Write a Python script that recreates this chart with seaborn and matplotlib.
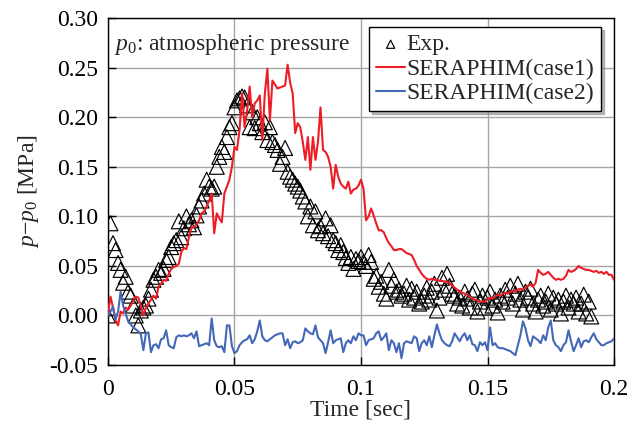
import numpy as np
import pandas as pd
import matplotlib
matplotlib.use("Agg")
import matplotlib.pyplot as plt
import seaborn as sns

# ---------------- data ----------------
dt = 0.001  # sample interval [sec]

exp_p = [
    0.000, 0.093, 0.073, 0.066, 0.053, 0.046, 0.033, 0.039, 0.024, 0.020,
    0.010, 0.000, -0.010, 0.005, 0.008, 0.010, 0.017, 0.026, 0.036, 0.039,
    0.046, 0.043, 0.047, 0.056, 0.059, 0.069, 0.073, 0.076, 0.095, 0.079,
    0.088, 0.100, 0.092, 0.096, 0.089, 0.101, 0.110, 0.116, 0.123, 0.137,
    0.130, 0.128, 0.130, 0.150, 0.160, 0.170, 0.165, 0.180, 0.190, 0.194,
    0.210, 0.217, 0.219, 0.221, 0.220, 0.212, 0.190, 0.205, 0.189, 0.200,
    0.194, 0.185, 0.195, 0.177, 0.190, 0.175, 0.172, 0.167, 0.153, 0.160,
    0.169, 0.145, 0.140, 0.137, 0.133, 0.130, 0.126, 0.120, 0.115, 0.100,
    0.110, 0.091, 0.105, 0.086, 0.090, 0.083, 0.098, 0.080, 0.091, 0.076,
    0.073, 0.066, 0.071, 0.064, 0.058, 0.053, 0.059, 0.047, 0.057, 0.055,
    0.059, 0.054, 0.050, 0.061, 0.054, 0.037, 0.040, 0.029, 0.034, 0.022,
    0.017, 0.046, 0.030, 0.036, 0.024, 0.026, 0.020, 0.022, 0.030, 0.016,
    0.027, 0.018, 0.024, 0.012, 0.014, 0.020, 0.028, 0.016, 0.024, 0.032,
    0.005, 0.018, 0.038, 0.026, 0.042, 0.030, 0.022, 0.020, 0.012, 0.018,
    0.010, 0.024, 0.017, 0.008, 0.022, 0.026, 0.004, 0.014, 0.020, 0.008,
    0.018, 0.024, 0.010, 0.016, 0.003, 0.020, 0.014, 0.026, 0.018, 0.030,
    0.012, 0.022, 0.032, 0.016, 0.006, 0.024, 0.018, 0.027, 0.012, 0.004,
    0.016, 0.020, 0.010, 0.014, 0.022, 0.006, 0.018, 0.012, 0.016, 0.002,
    0.014, 0.020, 0.008, 0.016, 0.012, 0.018, 0.004, 0.012, 0.021, 0.002,
    0.014, -0.001,
]

case1_p = [
    0.002, 0.019, 0.008, -0.005, -0.010, 0.004, 0.002, 0.008, 0.006, 0.010,
    0.015, 0.019, 0.018, 0.010, 0.000, 0.008, 0.012, 0.016, 0.020, 0.017,
    0.029, 0.032, 0.036, 0.035, 0.042, 0.047, 0.049, 0.050, 0.052, 0.064,
    0.068, 0.067, 0.079, 0.089, 0.089, 0.092, 0.096, 0.103, 0.105, 0.110,
    0.116, 0.123, 0.083, 0.103, 0.098, 0.094, 0.123, 0.130, 0.137, 0.150,
    0.170, 0.167, 0.187, 0.224, 0.190, 0.207, 0.231, 0.200, 0.214, 0.217,
    0.222, 0.177, 0.224, 0.249, 0.197, 0.237, 0.233, 0.229, 0.230, 0.231,
    0.232, 0.253, 0.235, 0.224, 0.184, 0.194, 0.190, 0.175, 0.157, 0.180,
    0.147, 0.180, 0.157, 0.175, 0.210, 0.167, 0.165, 0.160, 0.150, 0.128,
    0.152, 0.140, 0.133, 0.130, 0.128, 0.135, 0.123, 0.127, 0.128, 0.131,
    0.137, 0.128, 0.096, 0.100, 0.108, 0.101, 0.093, 0.086, 0.086, 0.084,
    0.078, 0.073, 0.070, 0.066, 0.066, 0.067, 0.067, 0.065, 0.063, 0.062,
    0.061, 0.056, 0.050, 0.046, 0.042, 0.039, 0.037, 0.036, 0.037, 0.036,
    0.036, 0.035, 0.035, 0.034, 0.034, 0.033, 0.030, 0.028, 0.026, 0.024,
    0.023, 0.022, 0.021, 0.019, 0.017, 0.016, 0.015, 0.014, 0.014, 0.014,
    0.016, 0.018, 0.017, 0.019, 0.021, 0.020, 0.022, 0.023, 0.022, 0.024,
    0.025, 0.024, 0.026, 0.027, 0.026, 0.028, 0.030, 0.031, 0.029, 0.033,
    0.046, 0.043, 0.041, 0.042, 0.044, 0.041, 0.038, 0.036, 0.037, 0.036,
    0.037, 0.040, 0.046, 0.044, 0.045, 0.047, 0.050, 0.048, 0.047, 0.046,
    0.046, 0.045, 0.044, 0.045, 0.043, 0.044, 0.042, 0.044, 0.041, 0.041,
    0.036,
]

case2_p = [
    0.000, 0.004, 0.009, -0.004, 0.004, 0.024, 0.010, 0.002, -0.006, -0.009,
    -0.012, -0.014, -0.016, -0.019, -0.035, -0.018, -0.017, -0.037, -0.030, -0.029,
    -0.033, -0.024, -0.023, -0.015, -0.030, -0.032, -0.033, -0.022, -0.020, -0.021,
    -0.020, -0.021, -0.020, -0.018, -0.023, -0.016, -0.031, -0.030, -0.029, -0.028,
    -0.030, -0.003, -0.025, -0.031, -0.032, -0.031, -0.037, -0.010, -0.010, -0.031,
    -0.038, -0.036, -0.030, -0.027, -0.025, -0.024, -0.020, -0.028, -0.024, -0.016,
    -0.005, -0.021, -0.025, -0.026, -0.024, -0.022, -0.020, -0.019, -0.018, -0.018,
    -0.030, -0.024, -0.033, -0.027, -0.026, -0.028, -0.027, -0.025, -0.013, -0.016,
    -0.018, -0.019, -0.010, -0.022, -0.025, -0.028, -0.038, -0.027, -0.015, -0.028,
    -0.025, -0.024, -0.023, -0.037, -0.028, -0.025, -0.028, -0.021, -0.025, -0.018,
    -0.020, -0.020, -0.030, -0.025, -0.024, -0.023, -0.018, -0.016, -0.025, -0.022,
    -0.018, -0.035, -0.025, -0.028, -0.037, -0.028, -0.043, -0.028, -0.026, -0.027,
    -0.028, -0.021, -0.023, -0.036, -0.028, -0.025, -0.030, -0.021, -0.032, -0.020,
    -0.009, -0.018, -0.025, -0.028, -0.030, -0.031, -0.026, -0.018, -0.022, -0.026,
    -0.021, -0.018, -0.025, -0.020, -0.029, -0.030, -0.036, -0.027, -0.030, -0.027,
    -0.035, -0.012, -0.030, -0.028, -0.032, -0.033, -0.033, -0.034, -0.035, -0.036,
    -0.038, -0.040, -0.030, -0.020, -0.006, -0.013, -0.025, -0.031, -0.021, -0.023,
    -0.025, -0.028, -0.020, -0.025, -0.012, -0.005, -0.025, -0.030, -0.032, -0.036,
    -0.030, -0.027, -0.015, -0.026, -0.036, -0.030, -0.023, -0.032, -0.026, -0.025,
    -0.027, -0.022, -0.018, -0.024, -0.027, -0.030, -0.030, -0.028, -0.027, -0.026,
    -0.023,
]

x_ticks = [0, 0.05, 0.1, 0.15, 0.2]
x_tick_labels = ["0", "0.05", "0.1", "0.15", "0.2"]
y_ticks = [-0.05, 0.0, 0.05, 0.10, 0.15, 0.20, 0.25, 0.30]
y_tick_labels = ["-0.05", "0.00", "0.05", "0.10", "0.15", "0.20", "0.25", "0.30"]

exp_df = pd.DataFrame({"t": np.arange(len(exp_p)) * dt, "p": exp_p})
c1_df = pd.DataFrame({"t": np.arange(len(case1_p)) * dt, "p": case1_p})
c2_df = pd.DataFrame({"t": np.arange(len(case2_p)) * dt, "p": case2_p})

# ---------------- style ----------------
sns.set_style("ticks")
plt.rcParams["font.family"] = ["Liberation Serif", "DejaVu Serif"]
plt.rcParams["mathtext.fontset"] = "custom"
plt.rcParams["mathtext.rm"] = "Liberation Serif"
plt.rcParams["mathtext.it"] = "Liberation Serif:italic"
plt.rcParams["axes.unicode_minus"] = False

FS = 17
red = "#EE1C25"
blue = "#4468B8"

fig = plt.figure(figsize=(6.35, 4.32), dpi=100)
ax = fig.add_axes([0.170, 0.155, 0.797, 0.803])

sns.scatterplot(data=exp_df, x="t", y="p", ax=ax, marker="^", s=115,
                facecolor="none", edgecolor="black", linewidth=0.85,
                label="Exp.", zorder=3)
sns.lineplot(data=c1_df, x="t", y="p", ax=ax, color=red, linewidth=1.5,
             label="SERAPHIM(case1)", zorder=4)
sns.lineplot(data=c2_df, x="t", y="p", ax=ax, color=blue, linewidth=1.5,
             label="SERAPHIM(case2)", zorder=4)

ax.set_xlim(0, 0.2)
ax.set_ylim(-0.05, 0.30)
ax.set_xticks(x_ticks)
ax.set_xticklabels(x_tick_labels)
ax.set_yticks(y_ticks)
ax.set_yticklabels(y_tick_labels)
ax.tick_params(axis="both", direction="in", length=6, width=1,
               labelsize=FS, colors="black")
ax.tick_params(axis="x", pad=10)
ax.tick_params(axis="y", pad=7)
ax.grid(True, color="#a6a6a6", linewidth=1.0)
ax.set_axisbelow(True)
for sp in ax.spines.values():
    sp.set_visible(True)
    sp.set_color("black")
    sp.set_linewidth(1.0)

ax.set_xlabel("Time [sec]", fontsize=FS, labelpad=0)
ax.set_ylabel("$p$\u2212$p_0$ [MPa]", fontsize=FS, labelpad=6)

ax.text(0.012, 0.925, "$p_0$: atmospheric pressure", transform=ax.transAxes,
        fontsize=FS, va="center", ha="left", zorder=5)

leg = ax.legend(loc="upper right", bbox_to_anchor=(0.975, 0.975), fontsize=FS,
                frameon=True, fancybox=False, shadow={"color": "0.55", "alpha": 0.6},
                framealpha=1, edgecolor="black", borderpad=0.3, labelspacing=0.12,
                handlelength=1.25, handletextpad=0.05, borderaxespad=0.0,
                markerscale=0.55)
leg.get_frame().set_linewidth(1.0)
leg.set_zorder(10)

fig.savefig("out.png", dpi=100)
